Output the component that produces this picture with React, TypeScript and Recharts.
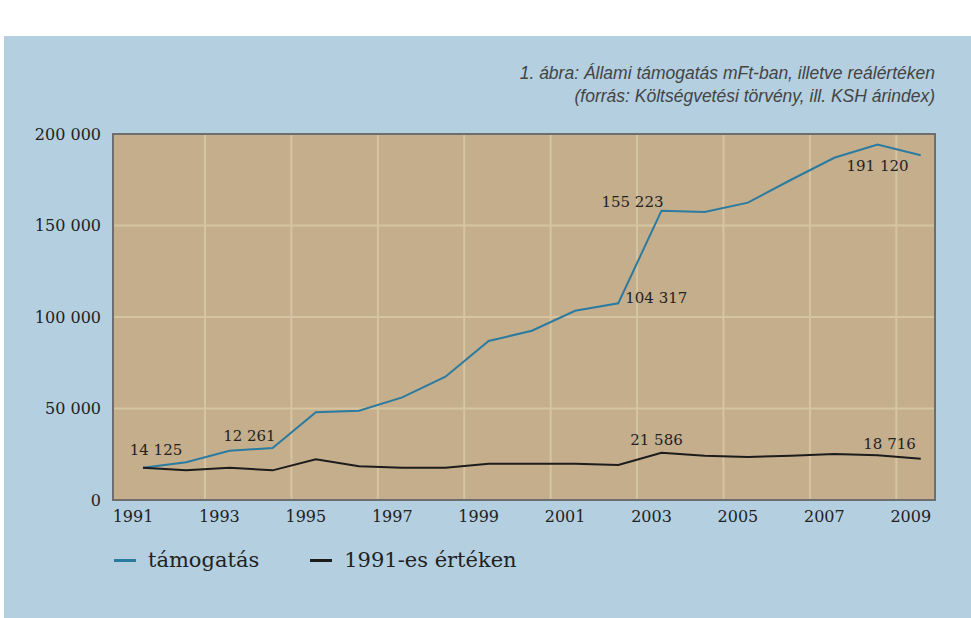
import {
  CartesianGrid,
  Legend,
  Line,
  LineChart,
  ReferenceArea,
  XAxis,
  YAxis,
} from "recharts";

const years = [
  1991, 1992, 1993, 1994, 1995, 1996, 1997, 1998, 1999, 2000, 2001, 2002, 2003,
  2004, 2005, 2006, 2007, 2008, 2009,
];
// állami támogatás, mFt
const tamogatas = [
  17650, 20600, 26900, 28400, 47900, 48800, 56100, 67400, 86900, 92500, 103400,
  107500, 158100, 157400, 162500, 175000, 187000, 194200, 188400,
];
// 1991-es értéken
const realErtek = [
  17650, 16200, 17650, 16200, 22200, 18400, 17650, 17650, 19800, 19800, 19800,
  19100, 25800, 24200, 23500, 24200, 25100, 24400, 22600,
];
const xTicks = [1991, 1993, 1995, 1997, 1999, 2001, 2003, 2005, 2007, 2009];
const yTicks = [0, 50000, 100000, 150000, 200000];
const seriesOrder = ["támogatás", "1991-es értéken"];

// value annotations printed on the original chart
const tamogatasNotes: Record<number, string> = {
  1991: "14 125",
  1993: "12 261",
  2002: "104 317",
  2003: "155 223",
  2008: "191 120",
};
const realNotes: Record<number, string> = {
  2003: "21 586",
  2008: "18 716",
};

// pixel nudges for the annotations (dx, dy from the point)
const tamogatasNudge: Record<number, [number, number]> = {
  1991: [13, -18],
  1993: [20, -15],
  2002: [38, -5],
  2003: [-29, -9],
  2008: [0, 21],
};
const realNudge: Record<number, [number, number]> = {
  2003: [-5, -13],
  2008: [12, -11],
};

const X_DOMAIN: [number, number] = [1990.306, 2009.33];
const GRID_SHIFT = 1.435; // vertical grid sits off the tick labels in the source
const SERIF = "'DejaVu Serif', serif";
const BLUE = "#2b7ba0";
const BLACK = "#1c1c1c";
const GRID = "#d5c5a2";

const data = years.map((year, i) => ({
  year,
  tamogatas: tamogatas[i],
  real: realErtek[i],
}));

const fmt = (v: number) => String(v).replace(/\B(?=(\d{3})+(?!\d))/g, " ");

function noteLabel(
  notes: Record<number, string>,
  nudge: Record<number, [number, number]>,
) {
  return (props: any) => {
    const { x, y, index } = props;
    const yr = years[index];
    const txt = notes[yr];
    if (!txt) return null;
    const [dx, dy] = nudge[yr] ?? [0, -12];
    return (
      <text
        key={`n-${yr}`}
        x={x + dx}
        y={y + dy}
        textAnchor="middle"
        dominantBaseline="central"
        fontFamily={SERIF}
        fontSize={15}
        fill="#222"
      >
        {txt}
      </text>
    );
  };
}

const YearTick = (props: any) => {
  const { x, y, payload } = props;
  return (
    <text
      x={x - 10}
      y={y}
      dy={14}
      textAnchor="middle"
      fontFamily={SERIF}
      fontSize={16}
      fill="#222"
    >
      {payload.value}
    </text>
  );
};

const LegendBox = (props: any) => {
  const items = [...(props.payload ?? [])].sort(
    (a: any, b: any) => seriesOrder.indexOf(a.value) - seriesOrder.indexOf(b.value),
  );
  return (
    <div style={{ display: "flex", alignItems: "center", height: 30 }}>
      {items.map((it: any) => (
        <div
          key={it.value}
          style={{ display: "flex", alignItems: "center", marginRight: 51 }}
        >
          <span
            style={{
              display: "inline-block",
              width: 22,
              height: 3,
              background: it.color,
              marginRight: 12,
            }}
          />
          <span style={{ fontFamily: SERIF, fontSize: 21, color: "#222" }}>
            {it.value}
          </span>
        </div>
      ))}
    </div>
  );
};

export default function App() {
  return (
    <div
      style={{
        position: "absolute",
        left: 0,
        top: 0,
        width: 971,
        height: 618,
        background: "#fff",
        overflow: "hidden",
      }}
    >
      <div
        style={{
          position: "absolute",
          left: 4,
          top: 36,
          right: 0,
          bottom: 0,
          background: "#b3cfe0",
        }}
      />
      <div
        style={{
          position: "absolute",
          right: 36,
          top: 62,
          textAlign: "right",
          fontFamily: "'Liberation Sans', Arial, sans-serif",
          fontStyle: "italic",
          fontSize: 17.5,
          lineHeight: "23px",
          color: "#444",
        }}
      >
        <div>1. ábra: Állami támogatás mFt-ban, illetve reálértéken</div>
        <div>(forrás: Költségvetési törvény, ill. KSH árindex)</div>
      </div>
      <div style={{ position: "absolute", left: 0, top: 0 }}>
        <LineChart
          width={971}
          height={618}
          data={data}
          margin={{ top: 134, right: 36, bottom: 58, left: 33 }}
        >
          <CartesianGrid
            fill="#c4ae8c"
            stroke={GRID}
            strokeWidth={2}
            horizontalValues={[50000, 100000, 150000]}
            verticalCoordinatesGenerator={(p: any) => {
              const { offset } = p;
              const span = X_DOMAIN[1] - X_DOMAIN[0];
              const sc = p.xAxis?.scale;
              return xTicks
                .slice(0, -1)
                .map((t) => t + GRID_SHIFT)
                .map((v) =>
                  typeof sc === "function"
                    ? sc(v)
                    : offset.left + ((v - X_DOMAIN[0]) / span) * offset.width,
                );
            }}
          />
          <XAxis
            dataKey="year"
            type="number"
            domain={X_DOMAIN}
            allowDataOverflow
            ticks={xTicks}
            interval={0}
            height={30}
            tickLine={false}
            axisLine={{ stroke: "#6e6e6e", strokeWidth: 2 }}
            tick={<YearTick />}
          />
          <YAxis
            domain={[0, 200000]}
            ticks={yTicks}
            interval={0}
            width={80}
            tickLine={false}
            tickMargin={6}
            axisLine={{ stroke: "#6e6e6e", strokeWidth: 2 }}
            tickFormatter={fmt}
            tick={{ fontFamily: SERIF, fontSize: 16, fill: "#222" }}
          />
          <ReferenceArea
            x1={X_DOMAIN[0]}
            x2={X_DOMAIN[1]}
            y1={0}
            y2={200000}
            fill="none"
            fillOpacity={0}
            stroke="#6e6e6e"
            strokeWidth={2}
          />
          <Line
            name="támogatás"
            dataKey="tamogatas"
            stroke={BLUE}
            strokeWidth={2}
            dot={false}
            type="linear"
            isAnimationActive={false}
            label={noteLabel(tamogatasNotes, tamogatasNudge)}
          />
          <Line
            name="1991-es értéken"
            dataKey="real"
            stroke={BLACK}
            strokeWidth={2}
            dot={false}
            type="linear"
            isAnimationActive={false}
            label={noteLabel(realNotes, realNudge)}
          />
          <Legend
            content={<LegendBox />}
            wrapperStyle={{ left: 114, top: 545, width: "auto" }}
          />
        </LineChart>
      </div>
    </div>
  );
}
